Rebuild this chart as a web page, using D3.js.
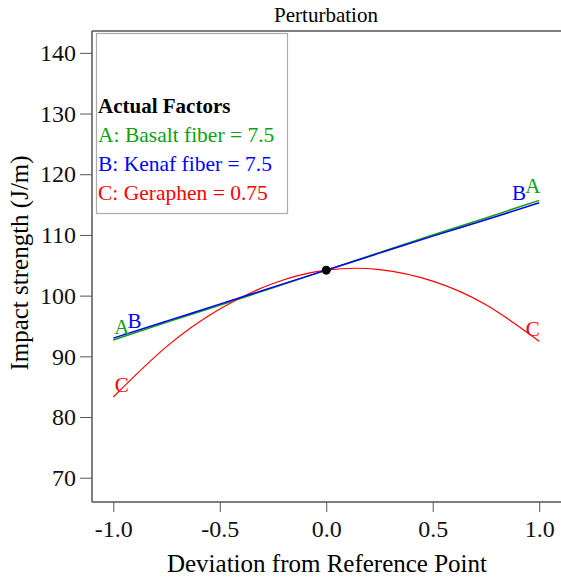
<!DOCTYPE html>
<html>
<head>
<meta charset="utf-8">
<script src="https://cdn.jsdelivr.net/npm/d3@7"></script>
<style>
  body { margin: 0; background: #fff; }
  text { font-family: "Liberation Serif", "Times New Roman", serif; }
</style>
</head>
<body>
<div class="chart"></div>
<script>
// deviation values
var devX = [-1, -0.75, -0.5, -0.25, 0, 0.25, 0.5, 0.75, 1];
var basalt = [92.7, 95.6, 98.4, 101.3, 104.2, 107.1, 110.0, 112.8, 115.7];
var kenaf = [93.0, 95.8, 98.6, 101.4, 104.2, 107.0, 109.8, 112.5, 115.3];
var geraphen = [83.3, 91.6, 97.8, 102.0, 104.2, 104.3, 102.4, 98.5, 92.5];
var refPoint = [0, 104.2];
var xTicks = [-1.0, -0.5, 0.0, 0.5, 1.0];
var yTicks = [70, 80, 90, 100, 110, 120, 130, 140];
var legendLines = ["A: Basalt fiber = 7.5", "B: Kenaf fiber = 7.5", "C: Geraphen = 0.75"];

function draw() {
  var width = 561, height = 581;
  var mLeft = 92, mTop = 31, mRight = 561, mBottom = 502;

  var svg = d3.select(".chart").append("svg")
    .attr("width", width).attr("height", height);

  var x = d3.scaleLinear().domain([-1.1, 1.1]).range([mLeft, mRight - 0.5]);
  var y = d3.scaleLinear().domain([66, 143.6]).range([mBottom, mTop]);

  var axisColor = "#555";

  // frame: top line + axes
  svg.append("line")
    .attr("x1", mLeft).attr("x2", mRight).attr("y1", mTop).attr("y2", mTop)
    .attr("stroke", axisColor).attr("stroke-width", 1.5);

  var xAxis = svg.append("g")
    .attr("transform", "translate(0," + mBottom + ")")
    .call(d3.axisBottom(x).tickValues(xTicks).tickSize(10).tickPadding(8));
  xAxis.select(".domain").attr("d", "M" + mLeft + ",0H" + mRight);

  var yAxis = svg.append("g")
    .attr("transform", "translate(" + mLeft + ",0)")
    .call(d3.axisLeft(y).tickValues(yTicks).tickSize(12).tickPadding(4));
  yAxis.select(".domain").attr("d", "M0," + mTop + "V" + mBottom);

  svg.selectAll(".domain").attr("stroke", axisColor).attr("stroke-width", 1.5);
  svg.selectAll(".tick line").attr("stroke", axisColor).attr("stroke-width", 1);
  svg.selectAll(".tick text")
    .attr("fill", "#111")
    .attr("font-family", null)
    .attr("font-size", null)
    .style("font-size", "24px");
  xAxis.selectAll(".tick text").text(function (d) { return d3.format(".1f")(d).replace("−", "-"); });

  // titles
  svg.append("text").attr("x", 326).attr("y", 22).attr("text-anchor", "middle")
    .style("font-size", "21px").text("Perturbation");
  svg.append("text").attr("x", 327).attr("y", 572).attr("text-anchor", "middle")
    .style("font-size", "25px").text("Deviation from Reference Point");
  svg.append("text")
    .attr("transform", "translate(28," + 263 + ") rotate(-90)")
    .attr("text-anchor", "middle")
    .style("font-size", "25px").text("Impact strength (J/m)");

  // legend box
  var lg = svg.append("g");
  lg.append("rect").attr("x", 96.5).attr("y", 33.5).attr("width", 191).attr("height", 180)
    .attr("fill", "#fff").attr("stroke", "#aaa").attr("stroke-width", 1.2);
  lg.append("text").attr("x", 98).attr("y", 113).style("font-size", "21px")
    .style("font-weight", "bold").text("Actual Factors");
  var lgColors = ["#10a010", "#0000ff", "#ff0000"];
  lg.selectAll(".lgi").data(legendLines).enter().append("text")
    .attr("x", 98).attr("y", function (d, i) { return 142 + i * 29; })
    .attr("fill", function (d, i) { return lgColors[i]; })
    .style("font-size", "21.5px")
    .text(function (d) { return d; });

  // curves
  var series = [
    { key: "A", vals: basalt, color: "#10a010" },
    { key: "C", vals: geraphen, color: "#ff0000" },
    { key: "B", vals: kenaf, color: "#0000ff" }
  ];
  var line = d3.line()
    .x(function (d, i) { return x(devX[i]); })
    .y(function (d) { return y(d); })
    .curve(d3.curveNatural);

  svg.selectAll(".curve").data(series).enter().append("path")
    .attr("class", "curve")
    .attr("fill", "none")
    .attr("stroke", function (d) { return d.color; })
    .attr("stroke-width", function (d) { return d.key == "C" ? 1.2 : 1.5; })
    .attr("d", function (d) { return line(d.vals); });

  // end labels
  var labels = [
    { t: "A", c: "#10a010", xv: -0.96, yv: 93.6 },
    { t: "B", c: "#0000ff", xv: -0.9, yv: 94.6 },
    { t: "C", c: "#ff0000", xv: -0.96, yv: 84.1 },
    { t: "B", c: "#0000ff", xv: 0.905, yv: 115.8 },
    { t: "A", c: "#10a010", xv: 0.97, yv: 116.9 },
    { t: "C", c: "#ff0000", xv: 0.97, yv: 93.3 }
  ];
  svg.selectAll(".elab").data(labels).enter().append("text")
    .attr("x", function (d) { return x(d.xv); })
    .attr("y", function (d) { return y(d.yv); })
    .attr("text-anchor", "middle")
    .attr("fill", function (d) { return d.c; })
    .style("font-size", "21px")
    .text(function (d) { return d.t; });

  // reference point
  svg.append("circle")
    .attr("cx", x(refPoint[0])).attr("cy", y(refPoint[1])).attr("r", 4.5)
    .attr("fill", "#000");
}

draw();
</script>
</body>
</html>
